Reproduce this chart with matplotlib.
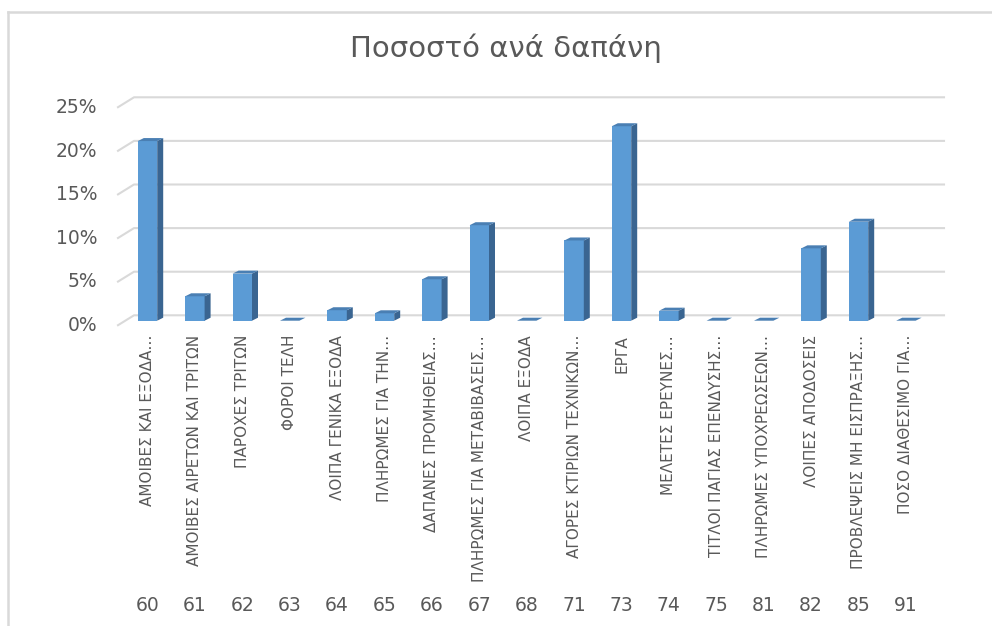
import matplotlib
matplotlib.use("Agg")
import matplotlib.pyplot as plt
from matplotlib.patches import Polygon
from matplotlib.lines import Line2D
from matplotlib import font_manager

codes = ["60", "61", "62", "63", "64", "65", "66", "67", "68",
         "71", "73", "74", "75", "81", "82", "85", "91"]
labels = [
    "ΑΜΟΙΒΕΣ ΚΑΙ ΕΞΟΔΑ…",
    "ΑΜΟΙΒΕΣ ΑΙΡΕΤΩΝ ΚΑΙ ΤΡΙΤΩΝ",
    "ΠΑΡΟΧΕΣ ΤΡΙΤΩΝ",
    "ΦΟΡΟΙ ΤΕΛΗ",
    "ΛΟΙΠΑ ΓΕΝΙΚΑ ΕΞΟΔΑ",
    "ΠΛΗΡΩΜΕΣ ΓΙΑ ΤΗΝ…",
    "ΔΑΠΑΝΕΣ ΠΡΟΜΗΘΕΙΑΣ…",
    "ΠΛΗΡΩΜΕΣ ΓΙΑ ΜΕΤΑΒΙΒΑΣΕΙΣ…",
    "ΛΟΙΠΑ ΕΞΟΔΑ",
    "ΑΓΟΡΕΣ ΚΤΙΡΙΩΝ ΤΕΧΝΙΚΩΝ…",
    "ΕΡΓΑ",
    "ΜΕΛΕΤΕΣ ΕΡΕΥΝΕΣ…",
    "ΤΙΤΛΟΙ ΠΑΓΙΑΣ ΕΠΕΝΔΥΣΗΣ…",
    "ΠΛΗΡΩΜΕΣ ΥΠΟΧΡΕΩΣΕΩΝ…",
    "ΛΟΙΠΕΣ ΑΠΟΔΟΣΕΙΣ",
    "ΠΡΟΒΛΕΨΕΙΣ ΜΗ ΕΙΣΠΡΑΞΗΣ…",
    "ΠΟΣΟ ΔΙΑΘΕΣΙΜΟ ΓΙΑ…",
]
# percent of total
values = [20.6, 2.8, 5.4, 0.0, 1.2, 0.85, 4.75, 10.95, 0.0,
          9.2, 22.3, 1.15, 0.0, 0.0, 8.3, 11.35, 0.0]
yticks = [0, 5, 10, 15, 20, 25]


def has_font(name):
    try:
        font_manager.findfont(name, fallback_to_default=False)
        return True
    except Exception:
        return False


narrow = "Liberation Sans Narrow" if has_font("Liberation Sans Narrow") else "DejaVu Sans"
text_font = "DejaVu Sans"
gray = "#595959"

W, H = 992, 626
fig = plt.figure(figsize=(W / 100, H / 100), dpi=100)

# plot area in pixels
x0_px, x1_px = 123.8, 929.6
ybase_px, ytop_px = 320.7, 102.7
ax = fig.add_axes([x0_px / W, (H - ybase_px) / H,
                   (x1_px - x0_px) / W, (ybase_px - ytop_px) / H])
ax.set_xlim(-0.5, len(codes) - 0.5)
ax.set_ylim(0, 25)
ax.axis("off")

pxx = (len(codes)) / (x1_px - x0_px)   # data units per pixel, x
pxy = 25 / (ybase_px - ytop_px)        # data units per pixel, y

# back wall gridlines with the 3D slant on the left
for v in yticks:
    yb = v + 5.4 * pxy
    yf = v - 4.5 * pxy
    xf = -0.5 - (x0_px - 118) * pxx
    xb = -0.5 + (134 - x0_px) * pxx
    xe = len(codes) - 0.5 + (944 - x1_px) * pxx
    ax.plot([xf, xb, xe], [yf, yb, yb], color="#d9d9d9", lw=1.5,
            clip_on=False, zorder=1)
    ax.text(-0.5 - (x0_px - 97) * pxx, v - 4.8 * pxy, f"{v}%",
            ha="right", va="center", fontsize=13.5, color=gray,
            family=text_font)

# 3D-looking columns
bw = 19.4 * pxx / 2
dx, dy = 6 * pxx, 3 * pxy
for i, v in enumerate(values):
    l, r = i - bw, i + bw
    side = Polygon([(r, 0), (r + dx, dy), (r + dx, v + dy), (r, v)],
                   closed=True, fc="#3a6591", ec="none", zorder=3, clip_on=False)
    top = Polygon([(l, v), (l + dx, v + dy), (r + dx, v + dy), (r, v)],
                  closed=True, fc="#4a7fb3", ec="none", zorder=3, clip_on=False)
    ax.add_patch(side)
    ax.add_patch(top)
    ax.bar(i, v, width=2 * bw, color="#5b9bd5", zorder=2, clip_on=False)

    # category name and code below
    ax.text(i, -14.3 * pxy, labels[i], rotation=90, ha="center", va="top",
            fontsize=11, color=gray, family=[narrow, "DejaVu Sans"])
    ax.text(i, -(605 - ybase_px) * pxy, codes[i], ha="center", va="center",
            fontsize=13.5, color=gray, family=text_font)

fig.text(506 / W, 1 - 48 / H, "Ποσοστό ανά δαπάνη", ha="center", va="center",
         fontsize=21, color=gray, family=text_font)

# chart border (top and left only visible)
fig.add_artist(Line2D([8 / W, 1], [1 - 12 / H, 1 - 12 / H], color="#d9d9d9", lw=1.8))
fig.add_artist(Line2D([8 / W, 8 / W], [0, 1 - 12 / H], color="#d9d9d9", lw=1.8))

fig.savefig("out.png", dpi=100)
